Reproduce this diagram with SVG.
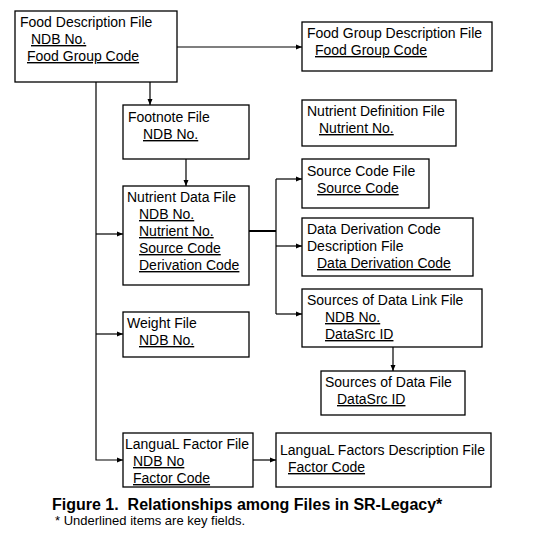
<svg xmlns="http://www.w3.org/2000/svg" width="559" height="533" viewBox="0 0 559 533">
<defs>
<marker id="ah" markerUnits="userSpaceOnUse" markerWidth="6" markerHeight="6" refX="6" refY="3" orient="auto">
<path d="M0,0.5 L6,3 L0,5.5 z" fill="#000"/>
</marker>
<style>
rect.box{fill:#fff;stroke:#000;stroke-width:1.3}
text{font-family:"Liberation Sans",Arial,sans-serif;font-size:14px;fill:#000}
.k{text-decoration:underline}
.c{stroke:#000;stroke-width:1.2;fill:none}
.cap{font-weight:bold;font-size:16px}
.note{font-size:13px}
</style>
</defs>
<rect width="559" height="533" fill="#fff"/>
<g id="connectors">
<path class="c" d="M177,47 H302" marker-end="url(#ah)"/>
<path class="c" d="M150,82 V105" marker-end="url(#ah)"/>
<path class="c" d="M186,159 V186" marker-end="url(#ah)"/>
<path class="c" d="M96,82 V460 H123" marker-end="url(#ah)"/>
<path class="c" d="M96,234 H123" marker-end="url(#ah)"/>
<path class="c" d="M96,334 H123" marker-end="url(#ah)"/>
<path d="M249,231 H276" stroke="#000" stroke-width="2" fill="none"/>
<path class="c" d="M276,179 V314"/>
<path class="c" d="M276,179 H302" marker-end="url(#ah)"/>
<path class="c" d="M276,246 H302" marker-end="url(#ah)"/>
<path class="c" d="M276,314 H302" marker-end="url(#ah)"/>
<path class="c" d="M393,347 V371" marker-end="url(#ah)"/>
<path class="c" d="M253,460 H276" marker-end="url(#ah)"/>
</g>
<g id="food-description">
<rect class="box" x="15" y="11" width="162" height="71"/>
<text x="20" y="27">Food Description File</text>
<text x="31" y="44" class="k">NDB No.</text>
<text x="27" y="61" class="k">Food Group Code</text>
</g>
<g id="food-group-description">
<rect class="box" x="302" y="22" width="190" height="49"/>
<text x="307" y="38">Food Group Description File</text>
<text x="315" y="55" class="k">Food Group Code</text>
</g>
<g id="footnote">
<rect class="box" x="123" y="105" width="126" height="54"/>
<text x="128" y="122">Footnote File</text>
<text x="143" y="139" class="k">NDB No.</text>
</g>
<g id="nutrient-definition">
<rect class="box" x="302" y="100" width="154" height="46"/>
<text x="307" y="116">Nutrient Definition File</text>
<text x="319" y="133" class="k">Nutrient No.</text>
</g>
<g id="source-code">
<rect class="box" x="302" y="159" width="127" height="49"/>
<text x="307" y="176">Source Code File</text>
<text x="317" y="193" class="k">Source Code</text>
</g>
<g id="nutrient-data">
<rect class="box" x="123" y="186" width="126" height="99"/>
<text x="127" y="202">Nutrient Data File</text>
<text x="139" y="219" class="k">NDB No.</text>
<text x="139" y="236" class="k">Nutrient No.</text>
<text x="139" y="253" class="k">Source Code</text>
<text x="139" y="270" class="k">Derivation Code</text>
</g>
<g id="data-derivation">
<rect class="box" x="302" y="218" width="171" height="58"/>
<text x="307" y="234">Data Derivation Code</text>
<text x="307" y="251">Description File</text>
<text x="317" y="268" class="k">Data Derivation Code</text>
</g>
<g id="sources-link">
<rect class="box" x="302" y="289" width="180" height="58"/>
<text x="307" y="305">Sources of Data Link File</text>
<text x="325" y="322" class="k">NDB No.</text>
<text x="325" y="339" class="k">DataSrc ID</text>
</g>
<g id="weight">
<rect class="box" x="123" y="312" width="126" height="45"/>
<text x="127" y="328">Weight File</text>
<text x="139" y="345" class="k">NDB No.</text>
</g>
<g id="sources-of-data">
<rect class="box" x="321" y="371" width="144" height="44"/>
<text x="325" y="387">Sources of Data File</text>
<text x="337" y="404" class="k">DataSrc ID</text>
</g>
<g id="langual-factor">
<rect class="box" x="123" y="433" width="130" height="54"/>
<text x="125" y="449">LanguaL Factor File</text>
<text x="133" y="466" class="k">NDB No</text>
<text x="133" y="483" class="k">Factor Code</text>
</g>
<g id="langual-description">
<rect class="box" x="276" y="433" width="215" height="54"/>
<text x="280" y="455">LanguaL Factors Description File</text>
<text x="288" y="472" class="k">Factor Code</text>
</g>
<g id="caption">
<text x="52" y="510" class="cap">Figure 1.&#160; Relationships among Files in SR-Legacy*</text>
<text x="55" y="525" class="note">* Underlined items are key fields.</text>
</g>
</svg>
